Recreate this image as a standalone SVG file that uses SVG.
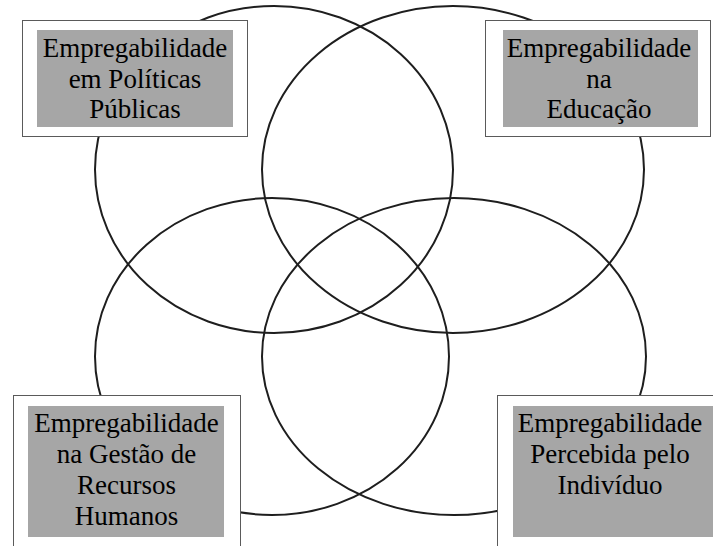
<svg xmlns="http://www.w3.org/2000/svg" width="713" height="546" viewBox="0 0 713 546">
<style>
.c{fill:none;stroke:#1e1e1e;stroke-width:2}
.o{fill:#fff;stroke:#5a5a5a;stroke-width:1}
.g{fill:#a6a6a6}
.t{font-size:27px;fill:#000;text-anchor:middle}
</style>
<rect width="713" height="546" fill="#fff"/>
<g id="connectors">
<ellipse class="c" cx="274" cy="169.5" rx="179" ry="163.5"/>
<ellipse class="c" cx="453" cy="169.5" rx="191" ry="163.5"/>
<ellipse class="c" cx="272" cy="356.5" rx="177" ry="158.5"/>
<ellipse class="c" cx="454" cy="356.5" rx="192" ry="158.5"/>
</g>
<g font-family="Liberation Serif, serif">
<g id="node-politicas">
<rect class="o" x="22.5" y="20.5" width="225" height="116"/>
<rect class="g" x="37" y="30" width="196" height="97"/>
<text class="t" x="135" y="57">Empregabilidade</text>
<text class="t" x="135" y="87.5">em Políticas</text>
<text class="t" x="135" y="118">Públicas</text>
</g>
<g id="node-educacao">
<rect class="o" x="485.5" y="20.5" width="225" height="116"/>
<rect class="g" x="503" y="30" width="195" height="97"/>
<text class="t" x="599" y="57">Empregabilidade</text>
<text class="t" x="599" y="87.5">na</text>
<text class="t" x="599" y="118">Educação</text>
</g>
<g id="node-rh">
<rect class="o" x="13.5" y="395.5" width="227" height="160"/>
<rect class="g" x="28" y="406" width="196" height="131"/>
<text class="t" x="126.5" y="432">Empregabilidade</text>
<text class="t" x="126.5" y="463">na Gestão de</text>
<text class="t" x="126.5" y="493.5">Recursos</text>
<text class="t" x="126.5" y="525">Humanos</text>
</g>
<g id="node-individuo">
<rect class="o" x="497.5" y="395.5" width="230" height="160"/>
<rect class="g" x="513" y="406" width="200" height="131"/>
<text class="t" x="610" y="432">Empregabilidade</text>
<text class="t" x="610" y="463">Percebida pelo</text>
<text class="t" x="610" y="493.5">Indivíduo</text>
</g>
</g>
</svg>
